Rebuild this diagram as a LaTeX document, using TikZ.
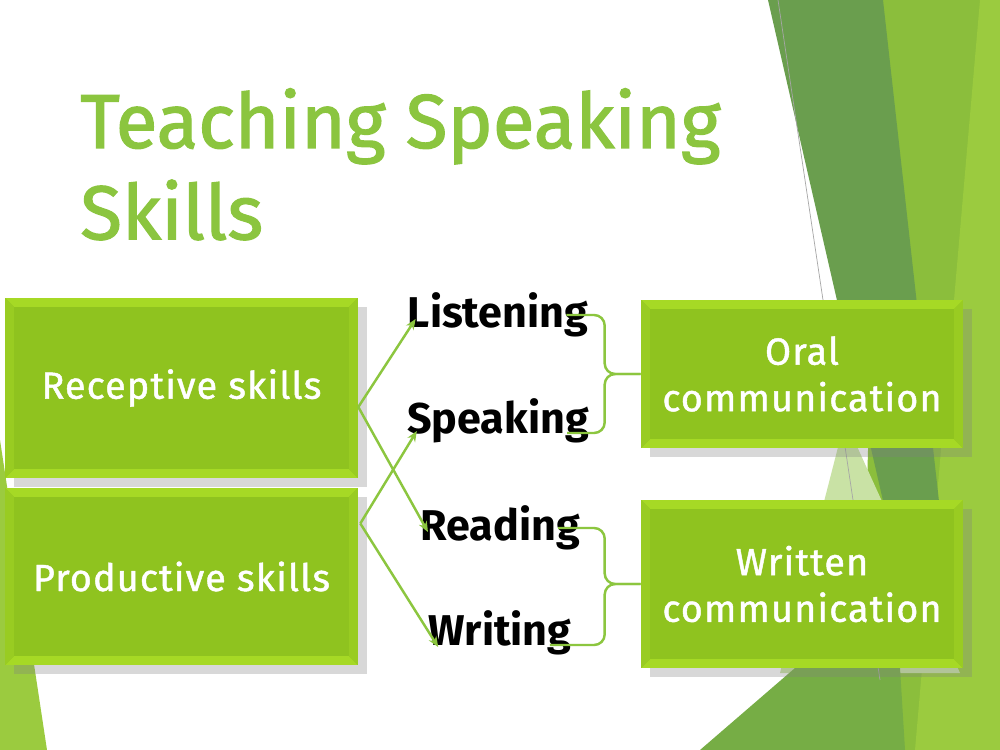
\documentclass[tikz,border=0pt]{standalone}
\usepackage{fontspec}
\setmainfont{Fira Sans}
\newfontfamily\titlefont[FakeBold=1.6]{Fira Sans}
\newfontfamily\boxfont[LetterSpace=3,FakeBold=1.2]{Fira Sans}
\usetikzlibrary{calc,shadows,arrows.meta}
\definecolor{titlegreen}{HTML}{8BC53F}
\definecolor{boxgreen}{HTML}{8FC31F}
\definecolor{bevellight}{HTML}{A6D925}
\definecolor{bevelside}{HTML}{99CC22}
\definecolor{linegreen}{HTML}{8CC63F}
\definecolor{darkband}{HTML}{6A9E4E}
\definecolor{lightband}{HTML}{8BBE3C}
\definecolor{brightband}{HTML}{9BCB3F}
\definecolor{paleband}{HTML}{C9E2A5}
\definecolor{midband}{HTML}{76AD45}
\tikzset{skillbox/.style={
    fill=boxgreen,
    inner sep=0pt,
    text=white,
    align=center,
    font=\boxfont\fontsize{21.5}{26.5}\selectfont,
    drop shadow={shadow xshift=5pt,shadow yshift=-5pt,opacity=0.3},
    path picture={
      \coordinate (nw) at (path picture bounding box.north west);
      \coordinate (ne) at (path picture bounding box.north east);
      \coordinate (sw) at (path picture bounding box.south west);
      \coordinate (se) at (path picture bounding box.south east);
      \fill[bevellight] (nw) -- (ne) -- ([shift={(-5pt,-5pt)}]ne) -- ([shift={(5pt,-5pt)}]nw) -- cycle;
      \fill[bevellight] (sw) -- (se) -- ([shift={(-5pt,5pt)}]se) -- ([shift={(5pt,5pt)}]sw) -- cycle;
      \fill[bevelside] (nw) -- (sw) -- ([shift={(5pt,5pt)}]sw) -- ([shift={(5pt,-5pt)}]nw) -- cycle;
      \fill[bevelside] (ne) -- (se) -- ([shift={(-5pt,5pt)}]se) -- ([shift={(-5pt,-5pt)}]ne) -- cycle;
    }}}
\tikzset{skillword/.style={
    anchor=base,
    inner sep=0pt,
    font=\fontsize{24.5}{28}\selectfont\bfseries}}
\tikzset{skillarrow/.style={
    draw=linegreen,
    line width=1.4pt,
    -{Stealth[length=6pt,width=5pt]}}}
\tikzset{bracketline/.style={
    draw=linegreen,
    line width=1.4pt,
    rounded corners=6pt}}
\newcommand{\skillbrace}[3]{%
  \coordinate (bx) at ($(#3.west)+(-36,0)$);
  \draw[bracketline] ($(#1.base east)+(-22,-12)$) coordinate (bt) -- (bt -| bx) -- (bx) -- (#3.west);
  \draw[bracketline] ($(#2.base east)+(-22,0)$) coordinate (bb) -- (bb -| bx) -- (bx) -- (#3.west);
}

\begin{document}
\begin{tikzpicture}[x=0.02cm,y=-0.02cm]
\useasboundingbox (0,0) rectangle (1000,750);
% background
\fill[white] (0,0) rectangle (1000,750);
\fill[lightband] (880,0) -- (1000,0) -- (1000,750) -- (860,750) -- cycle;
\fill[brightband] (980,0) -- (1000,0) -- (1000,750) -- (915,750) -- cycle;
\fill[darkband] (768,0) -- (883,0) -- (950,600) -- (915,640) -- cycle;
\fill[paleband] (845,420) -- (960,673) -- (780,673) -- cycle;
\fill[midband] (700,750) -- (795,668) -- (900,668) -- (905,750) -- cycle;
\fill[brightband] (0,440) -- (47,750) -- (0,750) -- cycle;
\draw[black!35, line width=0.4pt] (778,0) -- (880,680);

% title
\node[anchor=north west, inner sep=0pt, align=left, text=titlegreen,
      font=\titlefont\fontsize{43.5}{52}\selectfont] (title) at (80,88) {Teaching Speaking\\Skills};

% boxes
\node[skillbox, minimum width=7.06cm, minimum height=3.6cm] (rec) at (181.5,388) {Receptive skills};
\node[skillbox, minimum width=7.06cm, minimum height=3.54cm] (prod) at (181.5,576.5) {Productive skills};
\node[skillbox, minimum width=6.44cm, minimum height=2.96cm] (oral) at (802,374) {Oral\\communication};
\node[skillbox, minimum width=6.44cm, minimum height=3.36cm] (written) at (802,584) {Written\\communication};

% skills
\node[skillword] (lis) at (498,327) {Listening};
\node[skillword] (spk) at (498,433) {Speaking};
\node[skillword] (rea) at (500,540) {Reading};
\node[skillword] (wri) at (500,645) {Writing};

\coordinate (recfork) at ($(rec.east)+(0,19)$);
\coordinate (prodfork) at ($(prod.east)+(2,-53)$);
\draw[skillarrow] (recfork) -- ($(lis.base west)+(8,-8)$);
\draw[skillarrow] (recfork) -- ($(rea.base west)+(8,-8)$);
\draw[skillarrow] (prodfork) -- ($(spk.base west)+(10,-2)$);
\draw[skillarrow] (prodfork) -- ($(wri.base west)+(10,2)$);

\skillbrace{lis}{spk}{oral}
\skillbrace{rea}{wri}{written}
\end{tikzpicture}
\end{document}
